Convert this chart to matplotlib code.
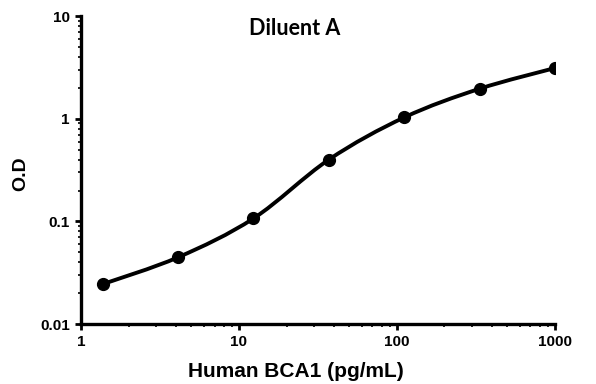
import numpy as np
import matplotlib
matplotlib.use("Agg")
import matplotlib.pyplot as plt
from matplotlib.path import Path
from matplotlib.patches import PathPatch

conc = [1.37, 4.12, 12.35, 37.04, 111.1, 333.3, 1000.0]
od = [0.0245, 0.0448, 0.107, 0.40, 1.03, 1.96, 3.12]

plt.rcParams['font.family'] = ['Liberation Sans', 'DejaVu Sans']

fig = plt.figure(figsize=(5.96, 3.84), dpi=100)
ax = fig.add_axes([0.136, 0.156, 0.795, 0.802])
ax.set_xscale('log')
ax.set_yscale('log')
ax.set_xlim(1, 1000)
ax.set_ylim(0.01, 10)

# smooth curve through the points: catmull-rom -> bezier, in log space
lx = np.log10(conc)
ly = np.log10(od)
pts = np.column_stack([lx, ly])
verts = [pts[0]]
codes = [Path.MOVETO]
for i in range(len(pts) - 1):
    p0 = pts[i - 1] if i > 0 else pts[i]
    p1 = pts[i]
    p2 = pts[i + 1]
    p3 = pts[i + 2] if i + 2 < len(pts) else pts[i + 1]
    c1 = p1 + (p2 - p0) / 6
    c2 = p2 - (p3 - p1) / 6
    verts += [c1, c2, p2]
    codes += [Path.CURVE4] * 3
verts = 10 ** np.array(verts)
ax.add_patch(PathPatch(Path(verts, codes), fill=False, lw=2.8, color='black',
                       capstyle='round', joinstyle='round'))

ax.plot(conc, od, 'o', color='black', markersize=8.5)

for s in ['top', 'right']:
    ax.spines[s].set_visible(False)
for s in ['left', 'bottom']:
    ax.spines[s].set_linewidth(2.4)

ax.set_xticks([1, 10, 100, 1000])
ax.set_xticklabels(['1', '10', '100', '1000'])
ax.set_yticks([0.01, 0.1, 1, 10])
ax.set_yticklabels(['0.01', '0.1', '1', '10'])
ax.tick_params(which='major', length=4, width=2, labelsize=11, pad=4)
ax.tick_params(which='minor', length=2, width=1.2)
for lab in ax.get_xticklabels() + ax.get_yticklabels():
    lab.set_fontweight('bold')

ax.set_xlabel('Human BCA1 (pg/mL)', fontsize=15, fontweight='bold', va='center')
ax.xaxis.set_label_coords(0.454, -0.153)
ax.set_ylabel('O.D', fontsize=14, fontweight='bold', va='center')
ax.yaxis.set_label_coords(-0.128, 0.49)
fig.text(0.495, 0.927, 'Diluent A', fontsize=15.5, fontweight='bold',
         ha='center', va='center', family=['Lato', 'DejaVu Sans'])

fig.savefig('out.png', dpi=100)
